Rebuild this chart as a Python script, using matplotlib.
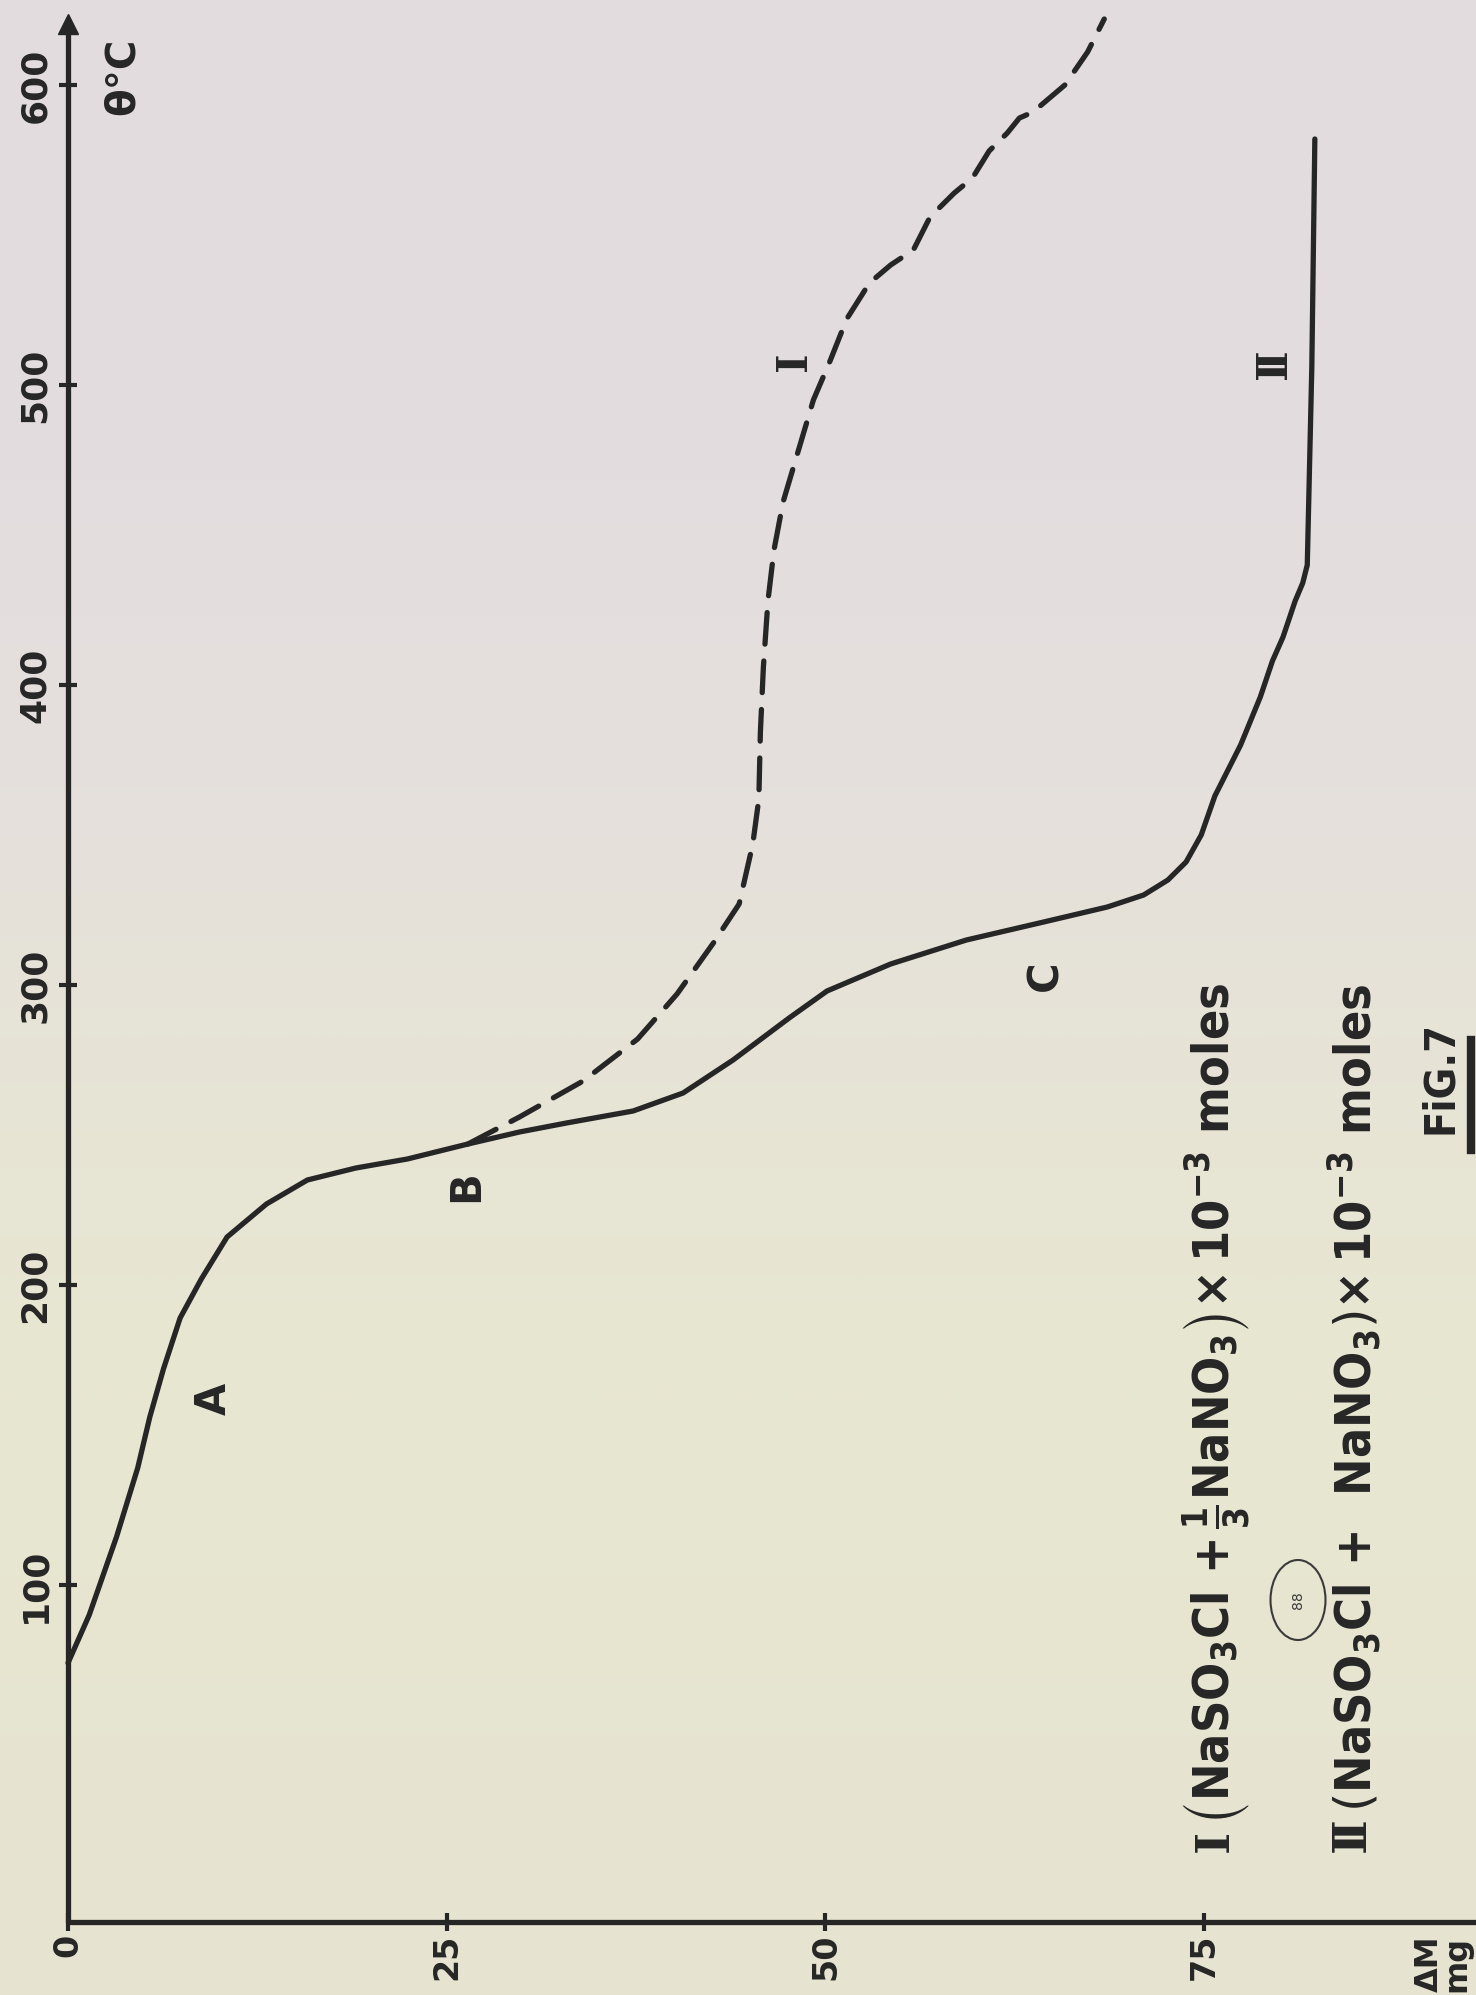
import numpy as np
import matplotlib.pyplot as plt
from matplotlib.patches import Ellipse
from matplotlib.lines import Line2D

# thermogravimetric curves of Fig. 7 (mass loss in mg against temperature in degC)
dm_ticks = [0, 25, 50, 75]
temp_ticks = [100, 200, 300, 400, 500, 600]

# curve II : NaSO3Cl + NaNO3 (solid line)
dm_II = [0, 1.4, 3.2, 4.6, 5.4, 6.3, 7.4, 8.8, 10.5, 13.1, 15.8, 19.0, 22.4,
         26.4, 29.8, 32.9, 37.3, 40.6, 43.9, 47.6, 50.1, 54.3, 59.3, 64.4,
         68.6, 71.0, 72.6, 73.8, 74.8, 75.7, 77.4, 78.7, 79.5, 80.2, 81.0,
         81.5, 81.8, 82.1, 82.3]
temp_II = [74, 90, 116, 139, 156, 172, 189, 202, 216, 227, 235, 239, 242,
           247, 251, 254, 258, 264, 275, 289, 298, 307, 315, 321,
           326, 330, 335, 341, 350, 363, 380, 396, 408, 416, 428,
           434, 440, 506, 582]

# curve I : NaSO3Cl + 1/3 NaNO3 (dashed), it leaves curve II at B
dm_I = [26.4, 29.8, 34.0, 37.6, 40.2, 42.6, 44.3, 45.2, 45.6, 45.7, 45.9,
        46.2, 46.6, 47.2, 48.2, 49.2, 50.3, 51.4, 52.9, 54.3, 55.8, 56.9,
        58.5, 59.7, 60.8, 62.0, 62.8, 63.7, 65.8, 67.3, 68.4]
temp_I = [247, 256, 268, 282, 297, 314, 327, 347, 362, 384, 406,
          428, 445, 461, 478, 495, 508, 522, 534, 540, 545, 556,
          564, 569, 578, 584, 589, 591, 600, 611, 622]

# letters written along the curves
point_labels = ["A", "B", "C", "Ⅰ", "Ⅱ"]
point_dm = [9.6, 26.3, 64.5, 47.9, 79.6]
point_temp = [162, 233, 303, 508, 507]

legend_I = r"$\left(\mathregular{NaSO_3Cl\ {+}\,\frac{1}{3}NaNO_3}\right)\mathregular{\times\,10^{-3}}$ moles"
legend_II = r"$\left(\mathregular{NaSO_3Cl\ {+}\ \ NaNO_3}\right)\mathregular{\times\,10^{-3}}$ moles"

W, H = 1476, 1995
INK = "#262626"
plt.rcParams["font.family"] = ["DejaVu Sans"]
plt.rcParams["mathtext.fontset"] = "dejavusans"


def fx(px):
    return px / W


def fy(py):
    return 1 - py / H


fig = plt.figure(figsize=(W / 100, H / 100), dpi=100)

# scanned paper tone
bg = fig.add_axes([0, 0, 1, 1], zorder=-5)
paper = np.array([[226, 220, 223], [228, 221, 224], [230, 227, 216],
                  [233, 232, 207], [230, 228, 210]]) / 255.0
bg.imshow(paper[:, None, :], aspect="auto", extent=[0, 1, 0, 1],
          interpolation="bicubic")
bg.set_axis_off()

# plot frame: theta = 0 at pixel row 1885, 3 px per degC, 15.15 px per mg
x0, y_zero, y_axis, ytop = 68, 1885, 1922, 24
ax = fig.add_axes([fx(x0), fy(y_axis), 1 - fx(x0), fy(ytop) - fy(y_axis)])
ax.patch.set_alpha(0)
ax.set_xlim(0, (W - x0) / 15.15)
ax.set_ylim((y_zero - y_axis) / 3.0, (y_zero - ytop) / 3.0)
for s in ["top", "right"]:
    ax.spines[s].set_visible(False)
for s in ["left", "bottom"]:
    ax.spines[s].set_linewidth(3.8)
    ax.spines[s].set_color(INK)
    ax.spines[s].set_capstyle("round")
ax.plot(0, 1, "^", ms=15, color=INK, transform=ax.get_xaxis_transform(),
        clip_on=False)

ax.set_xticks(dm_ticks)
ax.set_xticklabels([str(v) for v in dm_ticks], rotation=90, va="top")
ax.set_yticks(temp_ticks)
ax.set_yticklabels([str(v) for v in temp_ticks], rotation=90, va="center")
ax.tick_params(axis="both", direction="inout", length=13, width=3,
               color=INK, labelcolor=INK)
ax.tick_params(axis="x", pad=2, labelsize=24)
ax.tick_params(axis="y", pad=5, labelsize=26)
for t in ax.get_xticklabels() + ax.get_yticklabels():
    t.set_fontweight("bold")

ax.plot(dm_II, temp_II, color=INK, lw=3.8, solid_capstyle="round",
        solid_joinstyle="round", clip_on=False)
ax.plot(dm_I, temp_I, color=INK, lw=3.8, dashes=(6, 3.2),
        dash_capstyle="round", clip_on=False)

for lab, d, t in zip(point_labels, point_dm, point_temp):
    fam = ["DejaVu Serif"] if lab in ("Ⅰ", "Ⅱ") else ["DejaVu Sans"]
    ax.text(d, t, lab, rotation=90, ha="center", va="center", fontsize=30,
            color=INK, family=fam, fontweight="bold")

# axis names
fig.text(fx(103), fy(76), "θ°C", rotation=90, ha="left", va="center",
         fontsize=29, color=INK, fontweight="bold")
fig.text(fx(1414), fy(1992), "ΔM\nmg", rotation=90, ha="left",
         va="bottom", fontsize=23, color=INK, linespacing=0.85,
         fontweight="bold")

# composition key
for num, txt, xp, start in [("Ⅰ", legend_I, 1215, 1826),
                            ("Ⅱ", legend_II, 1352, 1812)]:
    fig.text(fx(xp), fy(1852), num, rotation=90, ha="center", va="bottom",
             fontsize=34, color=INK, family=["DejaVu Serif"],
             fontweight="bold")
    fig.text(fx(xp + 2), fy(start), txt, rotation=90, ha="center",
             va="bottom", fontsize=36, color=INK, family=["DejaVu Sans"],
             fontstretch="condensed", fontweight="bold")

fig.text(fx(1440), fy(1134), "FiG.7", rotation=90, ha="center",
         va="bottom", fontsize=31, color=INK, fontstretch="condensed",
         fontweight="bold")
fig.add_artist(Line2D([fx(1471), fx(1471)], [fy(1150), fy(1040)],
                      lw=6, color=INK))

# library stamp over the second formula
fig.add_artist(Ellipse((fx(1298), fy(1600)), 55 / W, 80 / H,
                       fill=False, lw=1.5, ec="#3a3a3a"))
fig.text(fx(1298), fy(1600), "88", rotation=90, ha="center",
         va="center", fontsize=10, color="#3a3a3a")

fig.savefig("out.png", dpi=100)
